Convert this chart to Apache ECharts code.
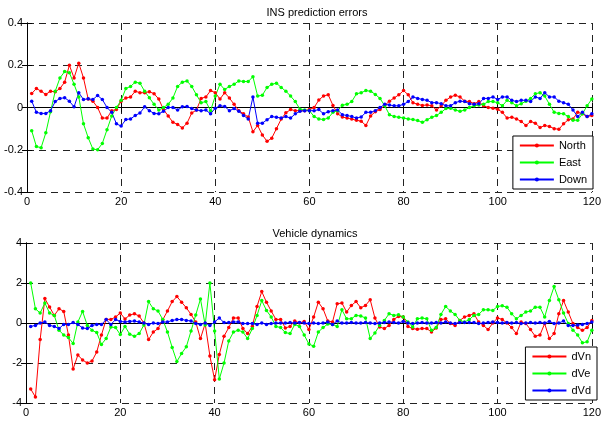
<!DOCTYPE html>
<html>
<head>
<meta charset="utf-8">
<script src="https://cdn.jsdelivr.net/npm/echarts@6/dist/echarts.min.js"></script>
<style>
  html, body { margin: 0; padding: 0; background: #fff; }
  #main { width: 604px; height: 423px; }
</style>
</head>
<body>
<div id="main"></div>
<script>
// 采样时刻 1..120
var steps = [];
for (var i = 1; i <= 120; i++) steps.push(i);

// INS prediction errors
var north = [0.066,0.09,0.077,0.062,0.077,0.074,0.09,0.12,0.2,0.14,
  0.21,0.14,0.04,0.03,0.0,-0.05,-0.05,-0.015,-0.01,0.03,
  0.045,0.05,0.077,0.07,0.07,0.075,0.065,0.04,-0.01,-0.04,
  -0.07,-0.08,-0.097,-0.074,-0.026,-0.012,0.043,0.05,0.08,0.07,
  0.04,0.07,0.045,0.015,-0.015,-0.03,-0.045,-0.115,-0.085,-0.13,
  -0.16,-0.145,-0.1,-0.055,-0.025,-0.01,-0.015,-0.015,-0.015,-0.01,
  0.0,0.035,0.055,0.06,0.01,-0.03,-0.045,-0.05,-0.055,-0.06,
  -0.065,-0.085,-0.04,-0.02,-0.01,0.01,0.03,0.045,0.06,0.08,
  0.06,0.023,0.015,0.01,0.012,0.008,-0.012,0.008,0.034,0.05,
  0.058,0.05,0.03,0.028,0.018,0.028,0.008,0.0,-0.003,-0.008,
  -0.023,-0.05,-0.046,-0.054,-0.066,-0.085,-0.066,-0.074,-0.095,-0.085,
  -0.09,-0.1,-0.103,-0.077,-0.058,-0.054,-0.023,-0.03,-0.043,-0.038];
var east = [-0.11,-0.185,-0.19,-0.12,-0.02,0.077,0.14,0.17,0.165,0.11,
  0.05,-0.077,-0.143,-0.197,-0.2,-0.17,-0.105,-0.04,0.0,0.034,
  0.09,0.1,0.12,0.115,0.077,0.046,0.015,-0.012,0.0,0.015,
  0.045,0.1,0.12,0.125,0.1,0.06,0.023,0.028,-0.015,0.054,
  0.11,0.085,0.1,0.11,0.126,0.123,0.123,0.146,0.054,0.058,
  0.095,0.11,0.115,0.095,0.077,0.054,0.028,-0.008,-0.012,-0.015,
  -0.043,-0.054,-0.057,-0.05,-0.023,-0.015,0.011,0.015,0.028,0.065,
  0.07,0.08,0.077,0.062,0.043,0.008,-0.034,-0.043,-0.046,-0.05,
  -0.054,-0.057,-0.062,-0.07,-0.058,-0.046,-0.038,-0.023,-0.005,-0.003,
  -0.012,-0.018,-0.012,0.0,0.008,0.012,0.015,0.028,0.028,0.023,
  0.008,0.034,0.023,0.008,0.018,0.03,0.043,0.065,0.07,0.054,
  0.015,-0.023,-0.028,-0.03,-0.043,-0.06,-0.06,-0.03,0.008,0.04];
var down = [0.03,-0.023,-0.028,-0.028,-0.015,0.028,0.043,0.046,0.03,0.003,
  0.07,0.038,0.041,0.038,0.057,0.038,0.0,-0.023,-0.077,-0.088,
  -0.057,-0.054,-0.038,-0.026,0.003,-0.015,-0.028,-0.03,-0.018,0.0,
  0.0,-0.012,0.003,0.005,-0.005,-0.012,-0.015,-0.012,-0.03,-0.003,
  0.008,0.005,-0.015,-0.005,-0.018,-0.038,-0.054,0.05,-0.074,-0.074,
  -0.058,-0.043,-0.046,-0.05,-0.043,-0.05,-0.03,-0.018,-0.015,-0.015,
  -0.015,-0.01,-0.03,-0.02,-0.015,-0.012,-0.034,-0.038,-0.043,-0.05,
  -0.045,-0.023,-0.023,-0.015,0.0,0.015,0.012,0.008,0.008,0.015,
  0.028,0.05,0.043,0.038,0.034,0.023,0.023,0.018,0.008,0.008,
  0.023,0.03,0.028,0.018,0.015,0.018,0.043,0.043,0.05,0.038,
  0.05,0.05,0.034,0.028,0.034,0.034,0.028,0.05,0.043,0.07,
  0.05,0.05,0.03,0.023,0.015,-0.012,-0.043,-0.023,-0.043,-0.03];

// Vehicle dynamics
var dVn = [-3.3,-3.7,-0.83,1.22,0.8,0.38,0.71,0.58,-0.6,-2.3,
  -1.6,-1.85,-2.0,-1.9,-1.45,-0.6,0.18,0.18,0.3,0.5,
  0.2,0.4,0.46,0.35,0.0,-0.83,-0.45,-0.28,0.16,0.6,
  1.07,1.32,1.04,0.76,0.43,0.05,-0.78,-0.03,-1.65,-2.84,
  -1.57,-0.66,-0.23,0.25,0.25,-0.28,-0.53,-0.17,0.83,1.57,
  1.04,0.6,0.18,0.18,-0.25,-0.17,0.1,0.0,0.08,-0.33,
  0.3,1.04,0.71,0.1,0.05,0.96,1.0,0.55,0.88,1.07,
  0.76,0.88,1.16,0.25,-0.2,-0.28,-0.12,0.18,0.33,0.3,
  -0.17,-0.28,-0.31,-0.28,-0.28,-0.45,-0.25,0.17,0.21,-0.03,
  -0.12,0.13,0.3,0.38,0.46,0.05,-0.12,-0.33,0.0,0.25,
  0.18,0.0,-0.23,-0.53,0.05,-0.03,-0.33,-0.66,-0.6,-0.03,
  -0.78,-0.53,0.46,1.12,0.55,-0.03,-0.23,-0.36,-0.23,0.13];
var dVe = [2.0,0.71,0.5,1.0,0.5,0.38,-0.36,-0.6,-0.73,-1.02,
  0.05,0.58,-0.12,-0.36,-0.48,-1.07,-0.78,-0.2,-0.23,-0.58,
  -0.17,-0.56,-0.66,-0.53,-0.1,1.07,0.71,0.6,0.18,-0.45,
  -1.22,-1.93,-1.52,-1.19,-0.4,0.4,1.2,-0.1,2.0,-0.4,
  -2.8,-2.0,-0.9,-0.45,-0.36,-0.45,-0.78,-0.28,0.38,1.12,
  0.63,0.3,-0.17,-0.23,-0.48,-0.53,-0.07,-0.17,-0.6,-1.05,
  -1.16,-0.45,-0.23,-0.05,-0.07,-0.17,0.66,0.21,0.21,0.38,
  0.35,0.25,-0.78,-0.5,-0.12,0.13,0.46,0.38,0.41,0.3,
  0.05,-0.2,0.21,0.25,0.21,-0.36,-0.23,0.43,0.83,0.6,
  0.43,0.13,0.05,0.17,0.38,0.43,0.66,0.66,0.63,0.83,
  0.86,0.79,0.46,0.21,0.38,0.55,0.6,0.79,0.79,0.3,
  1.12,1.82,1.16,0.5,-0.03,-0.36,-0.6,-0.99,-0.94,-0.36];
var dVd = [-0.17,-0.12,0.0,0.05,-0.12,-0.17,-0.28,-0.07,-0.07,0.02,
  -0.07,-0.25,-0.28,-0.12,-0.07,-0.07,0.17,-0.07,0.17,0.08,
  0.05,0.08,0.1,0.05,0.0,-0.07,0.0,-0.03,0.05,0.05,
  0.13,0.17,0.18,0.13,0.1,-0.03,-0.07,0.0,-0.12,0.05,
  0.25,0.02,0.02,0.05,0.05,-0.03,-0.03,-0.03,-0.07,0.0,
  -0.07,-0.03,0.0,0.0,0.0,0.02,0.0,0.03,0.0,-0.03,
  0.0,-0.03,0.0,0.05,-0.07,0.1,0.0,0.0,0.02,0.0,
  0.0,0.02,0.0,-0.03,0.0,0.02,0.05,0.02,0.0,0.08,
  0.0,-0.03,0.0,0.02,0.0,0.0,0.02,0.0,0.05,0.0,
  -0.03,0.02,0.02,0.03,0.02,-0.03,0.0,0.02,0.05,0.02,
  0.0,0.03,0.0,0.02,-0.03,0.0,0.02,0.0,0.02,0.0,
  0.08,-0.03,0.0,0.1,-0.12,-0.12,-0.1,-0.07,-0.03,0.05];

var font = 'Liberation Sans, Arial, sans-serif';

function pairs(ys) {
  return steps.map(function (x, k) { return [x, ys[k]]; });
}

function line(name, ys, color, idx) {
  return {
    name: name, type: 'line', xAxisIndex: idx * 2, yAxisIndex: idx * 2,
    data: pairs(ys), symbol: 'circle', symbolSize: 3.5,
    lineStyle: { color: color, width: 1 },
    itemStyle: { color: color },
    emphasis: { disabled: true }, animation: false
  };
}

function xAxes(grid) {
  var base = {
    type: 'value', gridIndex: grid, min: 0, max: 120, interval: 20,
    axisLine: { show: true, lineStyle: { color: '#000', width: 1 } },
    axisTick: { show: true, inside: true, length: 5, lineStyle: { color: '#000' } }
  };
  return [
    Object.assign({}, base, {
      position: 'bottom',
      axisLabel: { color: '#000', fontSize: 11, fontFamily: font, margin: 4 },
      splitLine: { show: true, lineStyle: { color: '#222', type: [7, 5], width: 1 } }
    }),
    Object.assign({}, base, {
      position: 'top', axisLabel: { show: false }, splitLine: { show: false }
    })
  ];
}

function yAxes(grid, lim, step) {
  var base = {
    type: 'value', gridIndex: grid, min: -lim, max: lim, interval: step,
    axisLine: { show: true, lineStyle: { color: '#000', width: 1 } },
    axisTick: { show: true, inside: true, length: 5, lineStyle: { color: '#000' } }
  };
  return [
    Object.assign({}, base, {
      position: 'left',
      axisLabel: { color: '#000', fontSize: 11, fontFamily: font, margin: 4 },
      splitLine: { show: true, lineStyle: { color: '#222', type: [7, 5], width: 1 } }
    }),
    Object.assign({}, base, {
      position: 'right', axisLabel: { show: false }, splitLine: { show: false }
    })
  ];
}

function legendBox(names, right, top) {
  return {
    data: names, orient: 'vertical', right: right, top: top,
    backgroundColor: '#fff', borderColor: '#000', borderWidth: 1, borderRadius: 0,
    padding: [4, 6, 4, 6], itemWidth: 34, itemHeight: 5, itemGap: 6,
    textStyle: { color: '#000', fontSize: 11, fontFamily: font },
    selectedMode: false
  };
}

var chart = echarts.init(document.getElementById('main'));
var option = {
  backgroundColor: '#fff',
  animation: false,
  title: [
    { text: 'INS prediction errors', left: 312, top: 2, textAlign: 'center',
      textStyle: { fontSize: 11, fontWeight: 'normal', color: '#000', fontFamily: font } },
    { text: 'Vehicle dynamics', left: 310, top: 223, textAlign: 'center',
      textStyle: { fontSize: 11, fontWeight: 'normal', color: '#000', fontFamily: font } }
  ],
  grid: [
    { left: 27, right: 7, top: 23, height: 169 },
    { left: 26, right: 8, top: 243, height: 160 }
  ],
  xAxis: xAxes(0).concat(xAxes(1)),
  yAxis: yAxes(0, 0.4, 0.2).concat(yAxes(1, 4, 2)),
  legend: [
    legendBox(['North', 'East', 'Down'], 11, 136),
    legendBox(['dVn', 'dVe', 'dVd'], 7, 347)
  ],
  series: [
    line('North', north, '#ff0000', 0),
    line('East', east, '#00ff00', 0),
    line('Down', down, '#0000ff', 0),
    line('dVn', dVn, '#ff0000', 1),
    line('dVe', dVe, '#00ff00', 1),
    line('dVd', dVd, '#0000ff', 1)
  ]
};
chart.setOption(option);
</script>
</body>
</html>
